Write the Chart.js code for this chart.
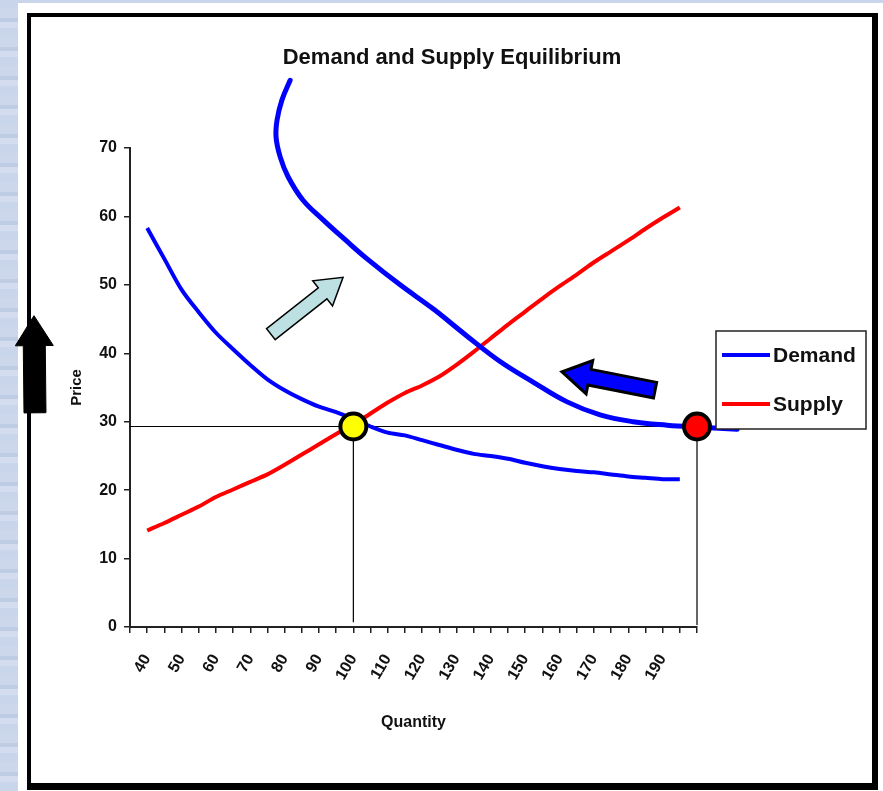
<!DOCTYPE html>
<html>
<head>
<meta charset="utf-8">
<script src="https://cdn.jsdelivr.net/npm/chart.js@4.4.1/dist/chart.umd.min.js"></script>
<style>
  html, body { margin: 0; padding: 0; }
  body {
    width: 883px; height: 791px; overflow: hidden; position: relative;
    background: repeating-linear-gradient(0deg, #c9d5ea 0 9px, #d3ddef 9px 15px, #bfcde4 15px 19px, #ccd7ec 19px 29px);
  }
  #sheet { position: absolute; left: 18px; top: 3px; right: 0; bottom: 0; background: #fff; }
  #frame {
    position: absolute; left: 27px; top: 13px; width: 841px; height: 766px;
    border-style: solid; border-color: #000; border-width: 4px 6px 7px 4px;
  }
  #chart { position: absolute; left: 0; top: 0; }
</style>
</head>
<body>
<div id="sheet"></div>
<div id="frame"></div>
<canvas id="chart" width="883" height="791"></canvas>
<script>
// quantity steps of the two original curves
const quantities = [40, 45, 50, 55, 60, 65, 70, 75, 80, 85, 90, 95, 100, 105, 110, 115,
	120, 125, 130, 135, 140, 145, 150, 155, 160, 165, 170, 175, 180, 185, 190, 195];
const demand = [58.3, 53.8, 49.3, 46.0, 43.0, 40.6, 38.3, 36.2, 34.6, 33.3, 32.2, 31.4, 30.4, 29.3, 28.4, 28.0,
	27.3, 26.6, 25.9, 25.3, 25.0, 24.6, 24.0, 23.5, 23.1, 22.8, 22.6, 22.3, 22.0, 21.8, 21.6, 21.6];
const supply = [14.1, 15.2, 16.4, 17.6, 19.0, 20.1, 21.2, 22.3, 23.7, 25.2, 26.7, 28.2, 29.6, 31.2, 32.8, 34.2,
	35.3, 36.6, 38.3, 40.2, 42.2, 44.2, 46.1, 48.0, 49.8, 51.5, 53.3, 54.9, 56.5, 58.2, 59.8, 61.3];

// hand drawn shifted demand curve
const shiftedQ = [81.6, 79.2, 77.8, 77.5, 78.7, 81.0, 85.3, 91.2, 97.6, 104.0, 113.6, 123.2, 133.1,
	142.7, 152.3, 162.2, 171.8, 181.4, 191.3, 200.9, 211.7];
const shiftedP = [79.9, 77.0, 74.1, 71.6, 68.7, 65.8, 62.4, 59.5, 56.6, 53.8, 50.0, 46.5, 42.5,
	38.8, 35.8, 32.9, 31.0, 30.0, 29.5, 29.2, 28.9];

const eqPrice = 29.3;
const eqQty = 100;
const newQty = 200;
const xTickLabels = [40, 50, 60, 70, 80, 90, 100, 110, 120, 130, 140, 150, 160, 170, 180, 190];
const yTicks = [0, 10, 20, 30, 40, 50, 60, 70];

// arrows in chart units [quantity, price]
const arrows = [
	{ from: [7.35, 31.3], to: [7.06, 45.5], shaft: 22, head: 38, headLen: 30, fill: "#000", stroke: "#000", lw: 1 },
	{ from: [76.0, 42.8], to: [97.0, 51.1], shaft: 14, head: 32, headLen: 26, fill: "#bde1e3", stroke: "#000", lw: 1.5 },
	{ from: [187.8, 34.6], to: [160.7, 37.3], shaft: 16, head: 34, headLen: 28, fill: "#0000ff", stroke: "#000", lw: 3 }
];

const pts = (xs, ys) => xs.map((x, i) => ({ x: x, y: ys[i] }));

const decorations = {
	id: "decorations",
	afterDraw(chart) {
		const c = chart.ctx;
		const sx = chart.scales.x, sy = chart.scales.y;

		// title
		c.save();
		c.fillStyle = "#111";
		c.font = "bold 22px 'Liberation Sans'";
		c.textAlign = "center";
		c.textBaseline = "alphabetic";
		c.fillText("Demand and Supply Equilibrium", 452, 64);
		c.restore();

		// arrows
		arrows.forEach(a => {
			const x0 = sx.getPixelForValue(a.from[0]), y0 = sy.getPixelForValue(a.from[1]);
			const x1 = sx.getPixelForValue(a.to[0]), y1 = sy.getPixelForValue(a.to[1]);
			const len = Math.hypot(x1 - x0, y1 - y0);
			const ux = (x1 - x0) / len, uy = (y1 - y0) / len;
			const px = -uy, py = ux;
			const bx = x1 - ux * a.headLen, by = y1 - uy * a.headLen;
			const s = a.shaft / 2, h = a.head / 2;
			c.save();
			c.beginPath();
			c.moveTo(x0 + px * s, y0 + py * s);
			c.lineTo(bx + px * s, by + py * s);
			c.lineTo(bx + px * h, by + py * h);
			c.lineTo(x1, y1);
			c.lineTo(bx - px * h, by - py * h);
			c.lineTo(bx - px * s, by - py * s);
			c.lineTo(x0 - px * s, y0 - py * s);
			c.closePath();
			c.fillStyle = a.fill;
			c.fill();
			c.lineWidth = a.lw;
			c.lineJoin = "miter";
			c.strokeStyle = a.stroke;
			c.stroke();
			c.restore();
		});

		// legend
		c.save();
		c.fillStyle = "#fff";
		c.fillRect(716, 331, 150, 98);
		c.strokeStyle = "#222";
		c.lineWidth = 1.5;
		c.strokeRect(716, 331, 150, 98);
		chart.data.datasets.filter(d => d.inLegend).forEach((d, i) => {
			const y = 355 + i * 49;
			c.beginPath();
			c.moveTo(722, y);
			c.lineTo(770, y);
			c.strokeStyle = d.borderColor;
			c.lineWidth = 4;
			c.stroke();
			c.fillStyle = "#111";
			c.font = "bold 21px 'Liberation Sans'";
			c.textBaseline = "middle";
			c.fillText(d.label, 773, y + 1);
		});
		c.restore();
	}
};

const axisFont = { family: "Liberation Sans", weight: "bold", size: 16 };

new Chart(document.getElementById("chart"), {
	type: "line",
	data: {
		datasets: [
			{
				label: "eq", data: [{ x: eqQty, y: eqPrice }], showLine: false, order: 0, clip: false,
				pointRadius: 13, pointBackgroundColor: "#ffff00", pointBorderColor: "#000", pointBorderWidth: 4
			},
			{
				label: "new", data: [{ x: newQty, y: eqPrice }], showLine: false, order: 0, clip: false,
				pointRadius: 13, pointBackgroundColor: "#ff0000", pointBorderColor: "#000", pointBorderWidth: 4
			},
			{
				label: "Shifted", data: pts(shiftedQ, shiftedP), order: 1, clip: false,
				borderColor: "#0000ff", borderWidth: 5, tension: 0.4, pointRadius: 0, borderCapStyle: "round"
			},
			{
				label: "Demand", inLegend: true, data: pts(quantities, demand), order: 2,
				borderColor: "#0000ff", borderWidth: 4, tension: 0.3, pointRadius: 0
			},
			{
				label: "Supply", inLegend: true, data: pts(quantities, supply), order: 2,
				borderColor: "#ff0000", borderWidth: 4, tension: 0.3, pointRadius: 0
			},
			{
				label: "hline", data: [{ x: 35, y: eqPrice }, { x: newQty, y: eqPrice }], order: 3,
				borderColor: "#000", borderWidth: 1.2, pointRadius: 0
			},
			{
				label: "v1", data: [{ x: eqQty, y: eqPrice }, { x: eqQty, y: 0.7 }], order: 3,
				borderColor: "#000", borderWidth: 1.2, pointRadius: 0
			},
			{
				label: "v2", data: [{ x: newQty, y: eqPrice }, { x: newQty, y: 0.3 }], order: 3, clip: false,
				borderColor: "#000", borderWidth: 1.2, pointRadius: 0
			}
		]
	},
	options: {
		responsive: false,
		animation: false,
		events: [],
		layout: { padding: { left: 60, right: 186, top: 148, bottom: 50 } },
		plugins: {
			legend: { display: false },
			title: { display: false },
			tooltip: { enabled: false }
		},
		scales: {
			x: {
				type: "linear", min: 35, max: 200,
				afterFit: s => { s.height = 114; },
				grid: { drawOnChartArea: false, tickLength: 6, color: "#222", lineWidth: 1.5 },
				border: { color: "#222", width: 2 },
				ticks: {
					stepSize: 5, autoSkip: false, maxTicksLimit: 100,
					minRotation: 60, maxRotation: 60, padding: 18,
					color: "#111", font: { family: "Liberation Sans", weight: "bold", size: 16 },
					callback: v => xTickLabels.includes(v) ? String(v) : ""
				},
				title: { display: true, text: "Quantity", color: "#111", font: axisFont, padding: { top: 0, bottom: 9 } }
			},
			y: {
				min: 0, max: 70,
				afterFit: s => { s.width = 70; },
				afterBuildTicks: s => { s.ticks = yTicks.map(v => ({ value: v })); },
				grid: { drawOnChartArea: false, tickLength: 6, color: "#222", lineWidth: 1.5 },
				border: { color: "#222", width: 2 },
				ticks: { padding: 7, color: "#111", font: axisFont },
				title: { display: true, text: "Price", color: "#111", font: { family: "Liberation Sans", weight: "bold", size: 15 }, padding: { top: 8, bottom: 0 } }
			}
		}
	},
	plugins: [decorations]
});
</script>
</body>
</html>
